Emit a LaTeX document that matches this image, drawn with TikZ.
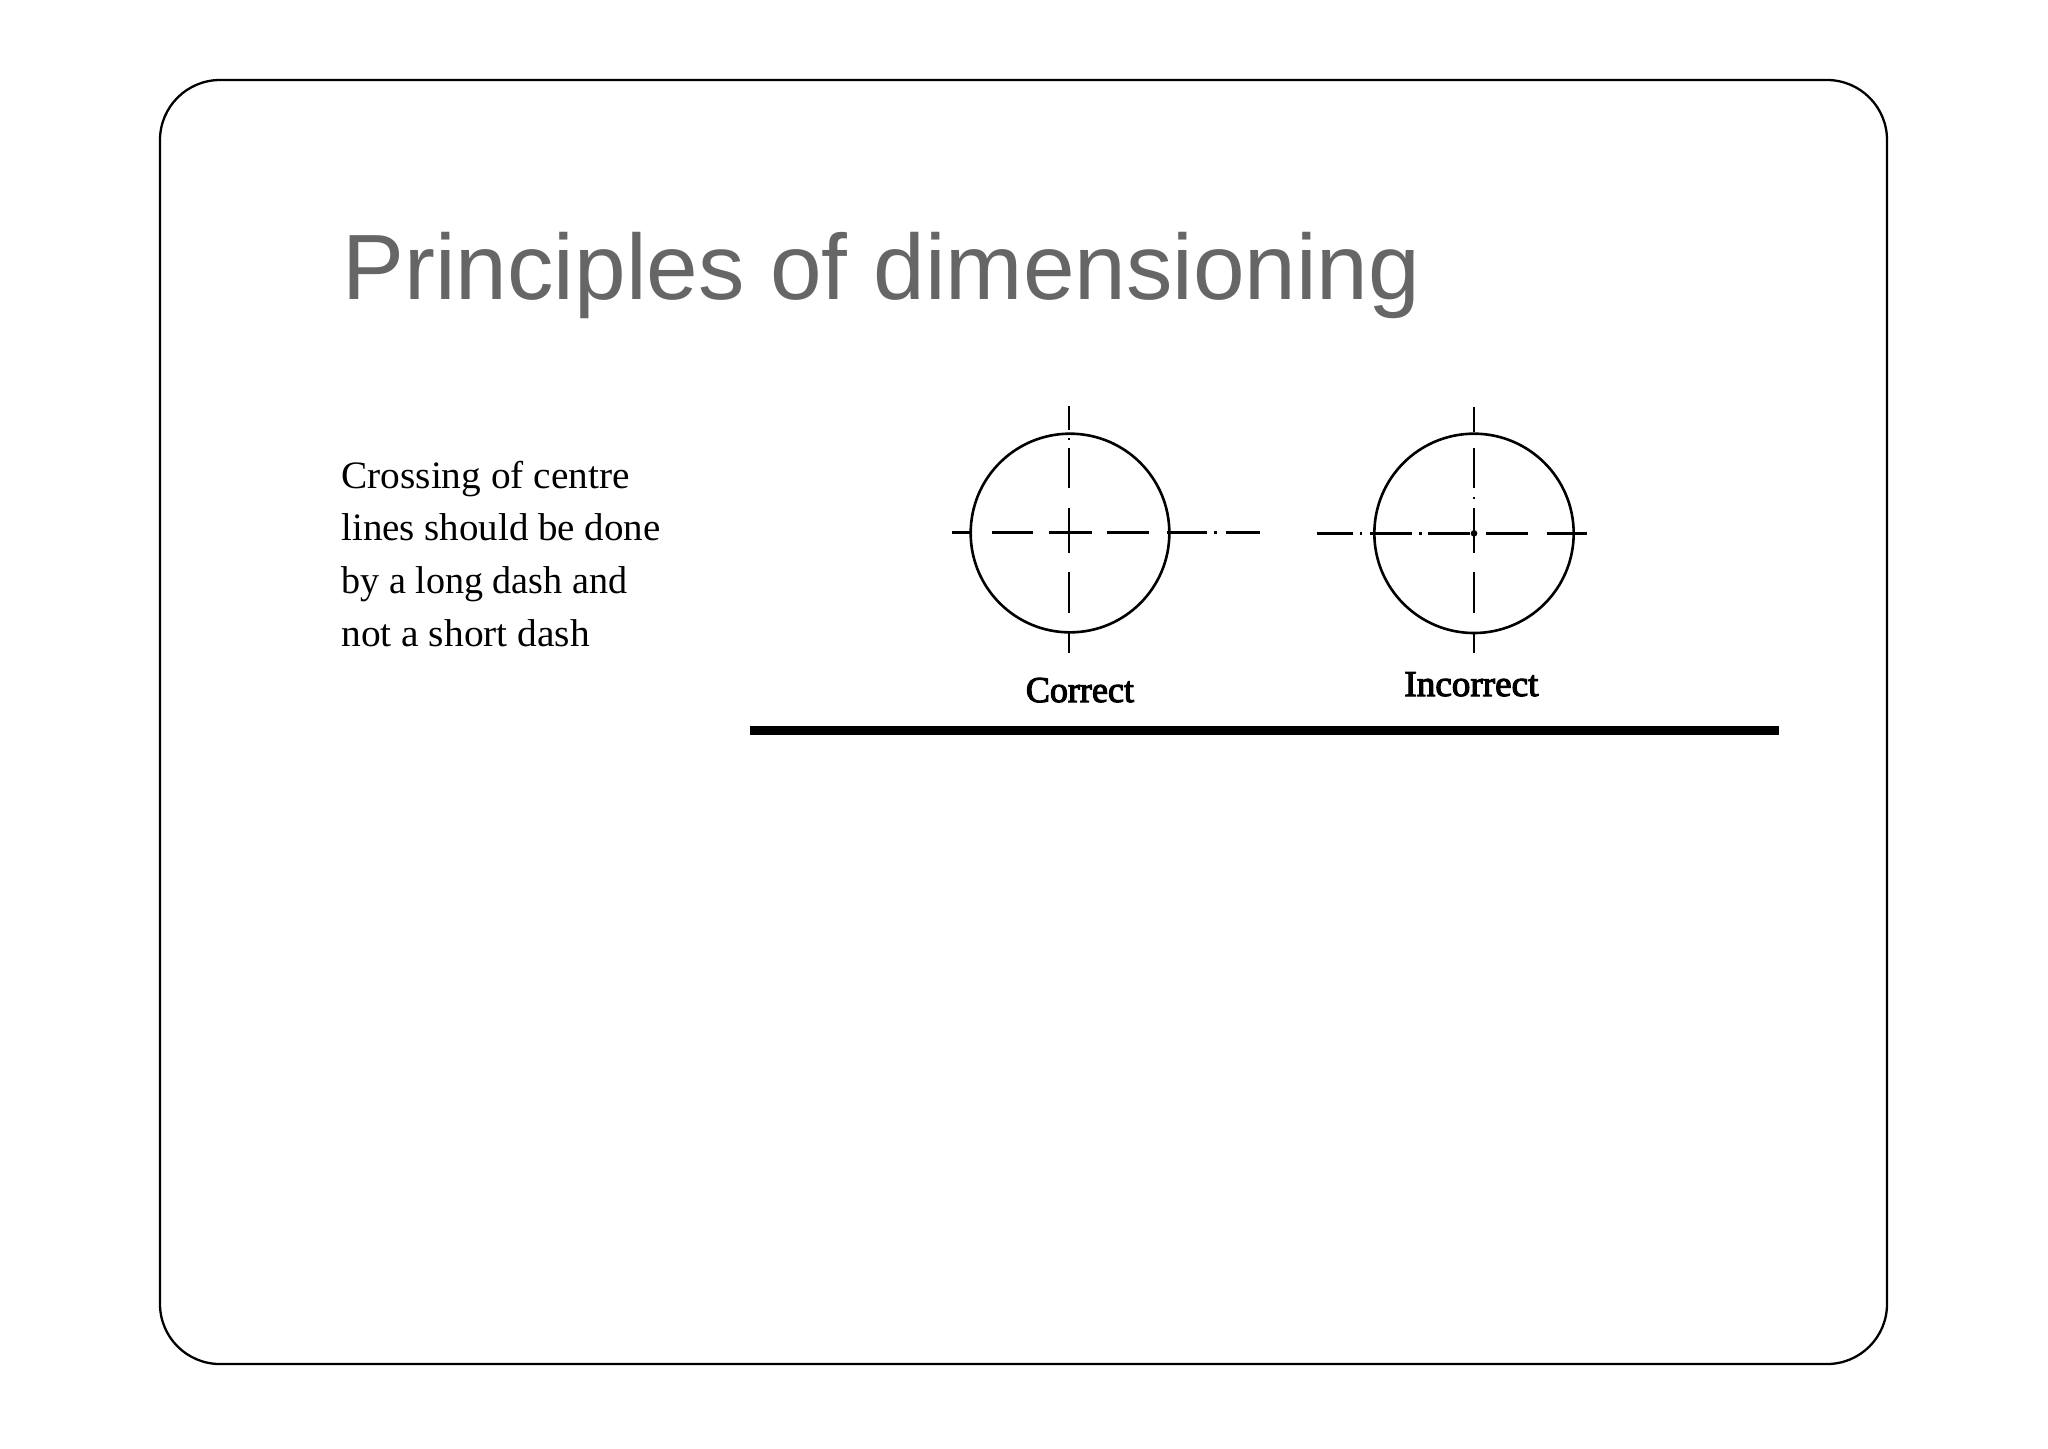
\documentclass[tikz,border=0pt]{standalone}
\usepackage{fontspec}
\setmainfont{Liberation Serif}
\newfontfamily\titlefont{Liberation Sans}
\newfontfamily\labelfont[FakeBold=3]{Liberation Serif}
\definecolor{titlegrey}{HTML}{666666}
\tikzset{
  titletext/.style={anchor=base west,inner sep=0pt,text=titlegrey,font=\titlefont\fontsize{46.4}{50}\selectfont},
  bodytext/.style={anchor=base west,inner sep=0pt,font=\fontsize{19.4}{22}\selectfont},
  figlabel/.style={anchor=base west,inner sep=0pt,font=\labelfont\fontsize{18.2}{20}\selectfont},
  frame/.style={draw=black,line width=1.15pt,rounded corners=30pt},
  rule/.style={draw=black,line width=4.2pt},
  hole/.style={draw=black,line width=1.3pt},
  centreh/.style={draw=black,line width=1.5pt},
  centrev/.style={draw=black,line width=1pt}
}
\begin{document}
\begin{tikzpicture}[x=0.5pt,y=-0.5pt]
\useasboundingbox (0,0) rectangle (2048,1448);
\fill[white] (0,0) rectangle (2048,1448);
\draw[frame] (160,80) rectangle (1887,1364);
\node[titletext] (title) at (342,299) {Principles of dimensioning};
\node[bodytext] (l1) at (341,488) {\scalebox{1.014}[1]{Crossing of centre}};
\node[bodytext] (l2) at (341,540) {\scalebox{1.004}[1]{lines should be done}};
\node[bodytext] (l3) at (341,593) {\scalebox{0.982}[1]{by a long dash and}};
\node[bodytext] (l4) at (341,646) {\scalebox{1.016}[1]{not a short dash}};
\draw[rule] (750,730.5) -- (1779,730.5);
% Correct
\begin{scope}[shift={(920,380)},x=0.16667pt,y=-0.16667pt]
\draw[hole] (450,459) circle [radius=298];
\foreach \a/\b in {78/150,175/180,203/325,383/520,575/700,760/820}
  \draw[centrev] (448,\a) -- (448,\b);
\foreach \a/\b in {97/155,217/338,388/515,562/688,740/860,882/890,917/1020}
  \draw[centreh] (\a,458) -- (\b,458);
\end{scope}
\node[figlabel] (correct) at (1025.5,702) {\scalebox{0.99}[1]{Correct}};
% Incorrect
\begin{scope}[shift={(1300,380)},x=0.16667pt,y=-0.16667pt]
\draw[hole] (522,460) circle [radius=299];
\foreach \a/\b in {80/155,203/325,350/356,383/520,575/700,760/820}
  \draw[centrev] (522,\a) -- (522,\b);
\foreach \a/\b in {50/160,180/186,210/335,358/365,385/510,558/685,740/860}
  \draw[centreh] (\a,460) -- (\b,460);
\fill (522,460) circle [radius=10];
\end{scope}
\node[figlabel] (incorrect) at (1404,696) {\scalebox{1.02}[1]{Incorrect}};
\end{tikzpicture}
\end{document}
